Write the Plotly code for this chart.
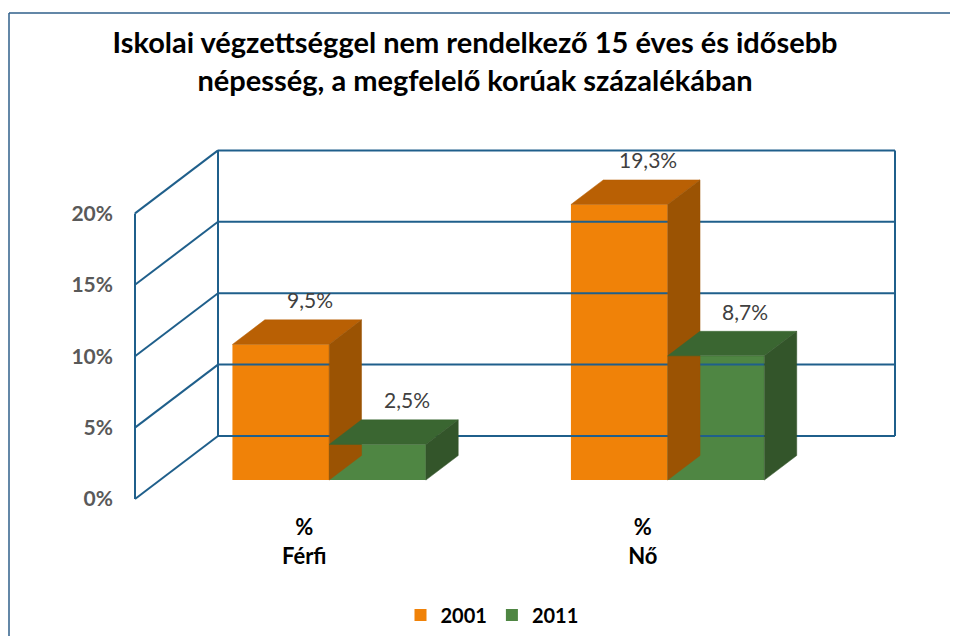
import plotly.graph_objects as go

# ---------------- data ----------------
categories = ["%<br>Férfi", "%<br>Nő"]
series_names = ["2001", "2011"]
values_2001 = [9.5, 19.3]
values_2011 = [2.5, 8.7]
labels_2001 = ["9,5%", "19,3%"]
labels_2011 = ["2,5%", "8,7%"]
y_ticks = [0, 5, 10, 15, 20]
y_tick_labels = ["0%", "5%", "10%", "15%", "20%"]
title_text = ("Iskolai végzettséggel nem rendelkező 15 éves és idősebb<br>"
              "népesség, a megfelelő korúak százalékában")

# ---------------- geometry / style ----------------
OFF = 8                      # browser body margin
W, H = 958 - 2 * OFF, 644 - 2 * OFF
PX_PER_CAT = 338.5          # pixels per category unit
PX_PER_PCT = 14.28          # pixels per percentage point
FLOOR_LEFT_PX = 135.0 - OFF # pixel x of front-left wall edge (x = -0.5)
ZERO_PX = 499.0 - OFF       # pixel y of 0% on the front plane
DXu = 83.0 / PX_PER_CAT     # full depth offset, x units
DYv = 63.0 / PX_PER_PCT     # full depth offset, y units
D0, D1 = 0.30, 0.69         # bar depth (front / back) as fraction of floor depth
BAR_W = 1 / 3.5
XL, XR = -0.5, len(categories) - 0.5
WALL_TOP = y_ticks[-1]

x_range = [XL - FLOOR_LEFT_PX / PX_PER_CAT, XL + (W - FLOOR_LEFT_PX) / PX_PER_CAT]
y_range = [(ZERO_PX - H) / PX_PER_PCT, ZERO_PX / PX_PER_PCT]


def px_x(p):
    return (p - OFF) / W


def px_y(p):
    return 1 - (p - OFF) / H


GRID = "#1F5F8B"
FONT = "Lato"
colors = {
    "2001": {"front": "#F08208", "top": "#B96004", "side": "#9B5303"},
    "2011": {"front": "#4F8643", "top": "#3A6631", "side": "#33552A"},
}

fig = go.Figure()

# ---------------- walls / gridlines ----------------
gx, gy = [], []
for t in y_ticks:
    gx += [XL + DXu, XR + DXu, None]
    gy += [t + DYv, t + DYv, None]
    gx += [XL, XL + DXu, None]
    gy += [t, t + DYv, None]
for xv in (XL + DXu, XR + DXu):
    gx += [xv, xv, None]
    gy += [DYv, WALL_TOP + DYv, None]
gx += [XL, XL, None]
gy += [0, WALL_TOP, None]
fig.add_trace(go.Scatter(x=gx, y=gy, mode="lines", line=dict(color=GRID, width=2),
                         hoverinfo="skip", showlegend=False))

# ---------------- 3D bars ----------------
base = D0 * DYv
ddx = (D1 - D0) * DXu
ddy = (D1 - D0) * DYv
series = [("2001", values_2001, labels_2001, -0.5), ("2011", values_2011, labels_2011, 0.5)]
annotations = []
for ci in range(len(categories)):
    for name, vals, labs, off in series:
        v = vals[ci]
        c = colors[name]
        xc = ci + D0 * DXu + off * BAR_W
        xl, xr = xc - BAR_W / 2, xc + BAR_W / 2
        top = base + v
        fig.add_trace(go.Scatter(
            x=[xl, xr, xr + ddx, xl + ddx, xl], y=[top, top, top + ddy, top + ddy, top],
            mode="lines", fill="toself", fillcolor=c["top"], line=dict(color=c["top"], width=0.5),
            hoverinfo="skip", showlegend=False))
        fig.add_trace(go.Scatter(
            x=[xr, xr, xr + ddx, xr + ddx, xr], y=[base, top, top + ddy, base + ddy, base],
            mode="lines", fill="toself", fillcolor=c["side"], line=dict(color=c["side"], width=0.5),
            hoverinfo="skip", showlegend=False))
        fig.add_trace(go.Bar(
            x=[xc], y=[v], base=[base], width=BAR_W, name="<b>" + name + "</b>",
            marker=dict(color=c["front"], line=dict(width=0)),
            legendgroup=name, showlegend=(ci == 0), hoverinfo="skip"))
        annotations.append(dict(
            x=xc + ddx * 0.9, y=top + ddy, text=labs[ci], showarrow=False,
            xanchor="center", yanchor="middle", yshift=20,
            font=dict(family=FONT, size=21, color="#404040")))

fig.update_layout(
    width=W, height=H,
    margin=dict(l=0, r=0, t=0, b=0),
    paper_bgcolor="white", plot_bgcolor="rgba(0,0,0,0)",
    barmode="overlay",
    title=dict(text="<b>" + title_text + "</b>", x=px_x(475), xanchor="center",
               y=1 - (62 - OFF - 9) / H, yanchor="middle", yref="container",
               font=dict(family=FONT, size=29, color="black")),
    xaxis=dict(range=x_range, showgrid=False, zeroline=False, showline=False,
               tickvals=list(range(len(categories))),
               ticktext=["<b>" + c + "</b>" for c in categories],
               tickfont=dict(family=FONT, size=22, color="black"),
               ticks="", anchor="free", position=px_y(512), automargin=False,
               fixedrange=True),
    yaxis=dict(range=y_range, showgrid=False, zeroline=False, showline=False,
               tickvals=y_ticks, ticktext=["<b>" + t + "</b>" for t in y_tick_labels],
               tickfont=dict(family=FONT, size=21, color="#595959"),
               ticks="", anchor="free", position=px_x(113), automargin=False,
               fixedrange=True),
    legend=dict(orientation="h", x=px_x(492), xanchor="center", y=px_y(615), yanchor="middle",
                font=dict(family=FONT, size=20, color="black"),
                itemclick=False, traceorder="normal", bgcolor="rgba(0,0,0,0)"),
    annotations=annotations,
    shapes=[
        dict(type="line", xref="paper", yref="paper", x0=px_x(9), y0=px_y(13),
             x1=1, y1=px_y(13), line=dict(color="#2F5F8A", width=1.5), layer="below"),
        dict(type="line", xref="paper", yref="paper", x0=px_x(9), y0=px_y(13),
             x1=px_x(9), y1=0, line=dict(color="#2F5F8A", width=1.5), layer="below"),
    ],
    showlegend=True,
)

fig.write_html("out.html", config={"displayModeBar": False})
